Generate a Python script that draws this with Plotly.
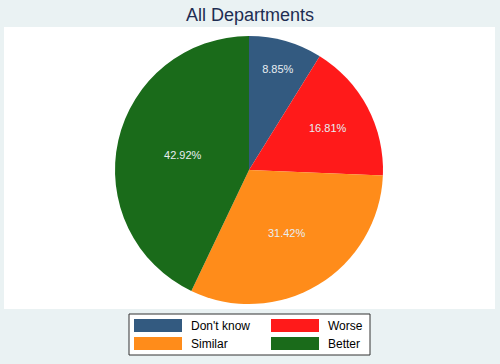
import plotly.graph_objects as go

categories = ["Don't know", "Worse", "Similar", "Better"]
values = [8.85, 16.81, 31.42, 42.92]
colors = ["#335a80", "#ff1a1a", "#ff8c1a", "#1a6b1a"]

W, H = 500, 364

def px(x):
    return x / W

def py(y):
    return 1 - y / H

fig = go.Figure()
fig.add_trace(go.Pie(
    labels=categories,
    values=values,
    sort=False,
    direction="clockwise",
    rotation=0,
    marker=dict(colors=colors, line=dict(width=0)),
    texttemplate="%{value:.2f}%",
    textposition="inside",
    insidetextorientation="horizontal",
    textfont=dict(family="Liberation Sans, Arial", size=11, color="#e8eef2"),
    hoverinfo="label+percent",
    showlegend=False,
    domain=dict(x=[px(115), px(383)], y=[py(304), py(36)]),
))

shapes = [
    dict(type="rect", xref="paper", yref="paper",
         x0=px(4), x1=px(495), y0=py(309), y1=py(27),
         fillcolor="white", line=dict(width=0), layer="below"),
    dict(type="rect", xref="paper", yref="paper",
         x0=px(129), x1=px(370), y0=py(355), y1=py(314),
         fillcolor="white", line=dict(color="#333333", width=1), layer="below"),
]
annotations = []
col_sw = [134, 271]
col_tx = [189, 326]
row_y = [319, 337]
for i, (cat, col) in enumerate(zip(categories, colors)):
    r, c = divmod(i, 2)
    shapes.append(dict(type="rect", xref="paper", yref="paper",
                       x0=px(col_sw[c]), x1=px(col_sw[c] + 48),
                       y0=py(row_y[r] + 13), y1=py(row_y[r]),
                       fillcolor=col, line=dict(width=0)))
    annotations.append(dict(xref="paper", yref="paper",
                            x=px(col_tx[c]), y=py(row_y[r] + 6.5),
                            text=cat, showarrow=False, xanchor="left", yanchor="middle",
                            font=dict(family="Liberation Sans, Arial", size=12, color="black")))

fig.update_layout(
    width=W, height=H,
    margin=dict(l=0, r=0, t=0, b=0),
    paper_bgcolor="#eaf2f3",
    plot_bgcolor="#eaf2f3",
    title=dict(text="All Departments", x=0.5, xanchor="center",
               y=py(15), yanchor="middle",
               font=dict(family="Liberation Sans, Arial", size=18, color="#1e2d52")),
    shapes=shapes,
    annotations=annotations,
)

fig.write_html("out.html",
               config={"displayModeBar": False},
               post_script="document.body.style.margin='0';document.body.style.overflow='hidden';")
